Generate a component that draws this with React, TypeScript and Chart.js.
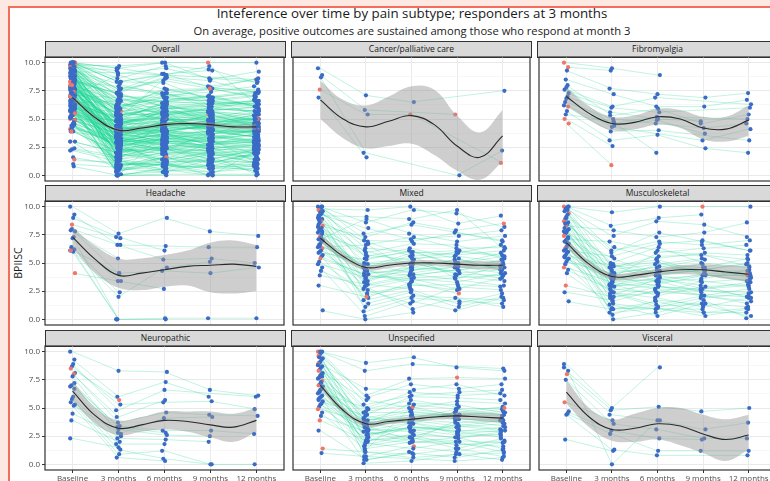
import React, { useEffect, useRef } from 'react';
import { Chart, registerables } from 'chart.js';
Chart.register(...registerables);

// ---------- axis / label data ----------
const timeLabels = ['Baseline', '3 months', '6 months', '9 months', '12 months'];
const timeValues = [1, 2, 3, 4, 5];
const yMajorTicks = [0, 2.5, 5, 7.5, 10];
const yMinorTicks = [1.25, 3.75, 6.25, 8.75];
const fitX = [1, 1.5, 2, 2.5, 3, 3.5, 4, 4.5, 5];

type Subj = (number | null)[];

// ---------- subject trajectories (Baseline, 3m, 6m, 9m, 12m) ----------
const cancer: Subj[] = [
  [9.5, 7.1, 6.5, null, 7.5],
  [8.9, 5.8, null, 5.4, null],
  [8.7, 2.0, null, 0.0, 2.2],
  [7.6, 5.4, 5.4, null, 1.1],
  [6.9, 1.6, null, null, null],
];
const cancerRed = [[3, 0], [3, 2], [1, 3], [3, 4]];
const cancerFit = [6.7, 5.0, 4.3, 4.8, 5.3, 4.5, 2.6, 1.6, 3.5];
const cancerLo = [5.0, 3.3, 2.4, 2.6, 2.8, 1.8, 0.4, -0.4, 1.2];
const cancerHi = [8.4, 6.7, 6.2, 7.0, 7.9, 7.6, 5.3, 3.8, 5.8];

const fibro: Subj[] = [
  [10.0, 9.5, 8.9, null, null],
  [9.6, 9.3, null, null, null],
  [9.3, 7.7, 7.2, 6.9, 7.3],
  [8.5, 7.2, 6.1, 6.1, 6.7],
  [7.6, 6.1, 6.9, null, 6.3],
  [7.3, 6.0, 5.6, null, 6.0],
  [7.0, 5.6, 5.0, 4.8, null],
  [6.8, 4.6, 5.2, null, 5.0],
  [6.5, 5.0, 4.6, 4.2, 4.6],
  [6.2, 4.3, null, 3.1, 4.1],
  [6.1, 3.9, 4.0, null, 3.1],
  [5.7, 3.1, 3.6, 2.4, 2.0],
  [5.4, 4.8, 2.0, null, null],
  [5.0, 2.6, null, null, null],
  [4.6, 0.9, null, null, null],
  [8.0, 5.3, 5.9, 4.6, 5.4],
  [7.8, 4.4, 4.9, 3.7, null],
];
const fibroRed = [[0, 0], [1, 0], [10, 0], [13, 0], [14, 0], [14, 1]];
const fibroFit = [7.0, 5.5, 4.6, 4.7, 5.2, 5.0, 4.2, 4.1, 4.9];
const fibroLo = [6.2, 4.9, 4.0, 4.1, 4.5, 4.2, 3.2, 3.0, 3.5];
const fibroHi = [7.8, 6.1, 5.2, 5.3, 5.9, 5.8, 5.2, 5.2, 6.2];

const headache: Subj[] = [
  [10.0, 7.6, 9.0, 7.8, 7.4],
  [9.3, 6.6, 6.5, 6.4, 6.4],
  [9.0, 7.3, 6.1, null, null],
  [8.0, 6.6, 5.3, 5.4, 5.0],
  [7.9, 4.1, 4.3, 4.1, 4.6],
  [7.8, 5.4, null, null, null],
  [7.3, 0.0, 0.1, 0.1, 0.1],
  [7.2, 3.4, 2.7, null, null],
  [6.4, 2.4, null, null, null],
  [6.1, 2.0, 4.6, 5.1, null],
  [6.2, 0.0, 0.0, null, null],
  [6.0, 0.0, null, null, null],
  [8.4, 7.2, null, null, null],
  [6.1, 4.1, null, null, null],
  [4.1, 3.4, null, null, null],
];
const headacheRed = [[12, 0], [13, 0], [14, 0]];
const headacheFit = [7.3, 5.3, 3.9, 4.1, 4.4, 4.7, 4.8, 4.9, 4.7];
const headacheLo = [6.3, 4.1, 2.8, 2.6, 2.9, 3.0, 2.4, 2.3, 2.5];
const headacheHi = [8.2, 6.5, 5.4, 5.4, 5.7, 6.1, 6.8, 7.0, 6.6];

const mixed: Subj[] = [
  [10.0, 8.6, 9.7, 9.4, 8.2],
  [10.0, 5.4, 6.0, 4.9, 5.6],
  [9.9, 7.6, 8.4, null, 7.0],
  [9.8, 9.7, 10.0, 8.5, 9.2],
  [9.7, 4.4, 3.1, 2.6, null],
  [9.6, 6.3, null, 5.7, 6.1],
  [9.4, 3.3, 4.6, 5.3, 4.9],
  [9.3, 8.1, 7.1, 7.4, 7.9],
  [9.1, 2.1, 2.9, null, null],
  [9.0, 5.9, 6.7, 6.6, 5.4],
  [8.9, 4.9, 5.1, 4.0, 3.9],
  [8.7, 0.7, 1.9, 1.6, 1.4],
  [8.6, 6.9, 5.6, 5.9, 6.6],
  [8.4, 3.9, null, 3.3, 4.1],
  [8.3, 7.3, 8.6, 7.9, 8.5],
  [8.1, 4.1, 4.4, 4.6, 5.0],
  [8.0, 1.4, 2.4, 1.1, 2.0],
  [7.9, 5.6, 6.3, null, 4.4],
  [7.7, 3.0, 3.7, 3.9, 3.4],
  [7.6, 6.1, 4.9, 5.1, null],
  [7.4, 4.6, 5.9, 6.1, 5.7],
  [7.3, 2.6, 1.4, 2.9, 2.6],
  [7.1, 8.9, 7.6, 6.9, 7.4],
  [7.0, 3.6, 4.0, null, 3.0],
  [6.9, 5.0, 5.4, 5.6, 5.1],
  [6.7, 1.9, 3.3, 2.3, null],
  [6.6, 4.3, 3.9, 4.4, 4.7],
  [6.4, 6.6, 7.3, 6.3, 6.4],
  [6.3, 2.9, 0.9, 1.9, 1.1],
  [6.1, 4.7, 5.0, 4.1, 4.4],
  [6.0, 3.4, 4.9, 5.0, 5.9],
  [5.9, 5.3, 6.1, 4.7, null],
  [5.7, 1.1, 2.1, null, 1.7],
  [5.6, 3.9, 3.4, 3.7, 3.9],
  [5.4, 4.0, 4.6, 4.3, 5.3],
  [5.1, 2.3, 3.0, 3.1, 2.9],
  [4.9, 3.7, null, 4.9, 4.6],
  [4.6, 0.3, 1.6, 0.8, 1.9],
  [4.3, 2.7, 3.6, 2.7, 3.7],
  [3.9, 3.1, 2.7, null, null],
  [3.0, 2.0, null, null, null],
  [0.8, 0.0, 0.6, null, null],
  [10.0, 7.0, 6.9, 7.7, 6.9],
  [9.5, 6.7, 4.3, 5.4, 4.3],
  [8.8, 3.1, 3.9, 4.4, 3.6],
  [8.2, 5.7, 5.3, 6.0, 5.6],
  [7.8, 4.4, 5.7, 3.6, 4.9],
  [7.2, 1.7, 2.6, 1.4, 2.3],
  [6.5, 4.9, 4.1, 4.7, 4.1],
  [9.2, 9.1, 8.9, 9.7, 6.3],
];
const mixedRed = [[4, 0], [11, 0], [14, 0], [21, 0], [28, 0], [34, 0], [13, 1], [40, 1], [25, 3], [14, 4]];
const mixedFit = [7.2, 5.6, 4.6, 4.8, 5.0, 5.0, 4.9, 4.8, 4.8];
const mixedLo = [6.85, 5.3, 4.35, 4.55, 4.75, 4.75, 4.6, 4.45, 4.4];
const mixedHi = [7.55, 5.9, 4.85, 5.05, 5.25, 5.25, 5.2, 5.15, 5.2];

const musculo: Subj[] = [
  [10.0, 9.5, 10.0, 10.0, 10.0],
  [10.0, 8.3, 9.0, 9.3, null],
  [9.9, 4.6, 5.1, 4.0, 3.4],
  [9.8, 7.4, 8.7, 8.4, 7.3],
  [9.6, 3.3, 2.7, null, 2.4],
  [9.4, 5.9, 7.7, 6.9, 6.1],
  [9.3, 2.1, 3.6, 3.0, 1.9],
  [9.1, 6.4, 5.4, 5.9, 5.7],
  [8.9, 1.4, 0.9, 0.6, 1.0],
  [8.7, 4.3, 4.3, 4.9, null],
  [8.6, 5.0, 6.4, 5.0, 4.6],
  [8.4, 3.0, 3.1, 3.9, 3.9],
  [8.3, 7.9, 7.3, 7.7, 8.6],
  [8.1, 0.4, 1.7, 1.3, 0.3],
  [8.0, 4.0, 4.7, null, 4.1],
  [7.9, 2.7, 2.3, 3.4, 2.9],
  [7.7, 5.4, 4.0, 4.4, 5.0],
  [7.6, 3.7, 5.9, 6.3, 6.6],
  [7.4, 1.0, null, 0.9, null],
  [7.3, 4.9, 3.3, 3.6, 4.4],
  [7.1, 6.9, 6.1, null, 5.3],
  [7.0, 2.4, 1.3, 2.1, 1.4],
  [6.9, 3.4, 4.9, 4.6, 3.7],
  [6.7, 4.4, null, 5.4, null],
  [6.6, 1.9, 2.9, 2.6, 2.1],
  [6.4, 3.9, 4.1, 4.3, 4.3],
  [6.3, 0.0, 0.6, 1.7, 0.1],
  [6.1, 5.6, 6.7, 7.0, 6.1],
  [6.0, 2.9, 3.4, 2.4, null],
  [5.9, 3.1, 2.1, 2.9, 3.1],
  [5.7, 4.7, 5.3, 4.1, 4.0],
  [5.6, 1.6, 2.6, null, 1.6],
  [5.4, 3.6, 3.9, 3.3, 3.6],
  [5.3, 2.3, 1.1, 1.9, 2.3],
  [5.1, 4.1, 4.6, 5.3, null],
  [4.9, 0.9, 1.6, 0.6, 0.6],
  [4.6, 3.3, null, 3.9, 3.9],
  [4.4, 2.6, 3.0, 2.1, 2.7],
  [4.1, 1.3, 0.3, 1.4, 1.1],
  [3.0, 2.0, 2.4, null, 2.0],
  [2.4, 1.7, null, null, null],
  [10.0, 6.1, 6.9, 6.6, 7.0],
  [9.7, 3.9, 2.9, 2.7, 3.0],
  [9.0, 2.9, 4.4, 4.6, 5.4],
  [8.5, 4.9, 3.9, 4.4, 4.9],
  [7.8, 3.0, 3.7, 2.7, 3.3],
  [7.2, 4.6, 5.6, 5.7, 4.7],
  [6.8, 0.6, 1.0, 0.3, 0.9],
  [6.2, 3.6, 3.4, 4.0, 3.4],
  [5.5, 2.4, 1.9, 1.1, 1.9],
  [1.6, 0.9, null, 1.4, null],
];
const musculoRed = [[0, 0], [5, 0], [9, 0], [12, 0], [18, 0], [26, 0], [36, 0], [39, 0], [0, 3], [30, 4]];
const musculoFit = [6.8, 4.9, 3.8, 3.9, 4.2, 4.4, 4.4, 4.2, 4.0];
const musculoLo = [6.4, 4.6, 3.5, 3.6, 3.9, 4.0, 3.9, 3.6, 3.3];
const musculoHi = [7.2, 5.2, 4.1, 4.2, 4.5, 4.8, 4.9, 4.8, 4.7];

const neuro: Subj[] = [
  [10.0, 8.3, 8.2, 6.6, 6.1],
  [9.3, 6.0, 7.3, 6.0, null],
  [8.9, 4.8, 6.6, null, 6.0],
  [8.7, 5.3, 5.5, 5.6, 4.9],
  [8.5, 5.7, null, null, null],
  [8.1, 3.7, 4.6, 4.4, 4.3],
  [8.0, 4.2, 5.7, null, null],
  [7.8, 2.7, 4.1, 4.2, null],
  [7.0, 3.4, 3.0, 3.0, 2.7],
  [6.9, 3.1, 2.6, 2.5, null],
  [6.7, 2.3, 2.2, 2.0, null],
  [6.0, 1.8, 1.8, null, null],
  [5.8, 1.3, 0.5, 0.0, 0.0],
  [5.5, 0.9, 1.2, 0.0, null],
  [5.3, 2.8, null, null, null],
  [5.2, 0.6, 0.3, null, null],
  [4.5, 2.5, null, null, null],
  [3.9, 2.0, null, null, null],
  [2.3, 1.5, null, null, null],
  [7.2, 3.3, 2.8, null, null],
];
const neuroRed = [[4, 0], [4, 1], [6, 0]];
const neuroFit = [6.5, 4.3, 3.2, 3.5, 3.9, 3.8, 3.5, 3.3, 3.9];
const neuroLo = [5.6, 3.6, 2.6, 2.9, 3.1, 2.9, 2.4, 2.0, 2.9];
const neuroHi = [7.4, 5.0, 3.9, 4.2, 4.7, 4.7, 4.7, 4.5, 5.0];

const unspec: Subj[] = [
  [10.0, 9.0, 9.5, 8.6, 8.3],
  [10.0, 8.3, 8.9, null, 8.5],
  [9.9, 5.3, 6.1, 6.4, 6.6],
  [9.7, 2.0, 3.4, 2.9, 2.4],
  [9.6, 6.1, 7.6, 7.7, 7.6],
  [9.4, 3.7, 4.1, 4.9, 4.4],
  [9.3, 0.4, 1.0, 0.6, 1.3],
  [9.1, 4.9, 5.7, 5.1, null],
  [9.0, 2.9, 2.4, 3.6, 3.1],
  [8.9, 6.7, 6.6, 7.1, 6.1],
  [8.7, 1.4, 2.0, null, 1.6],
  [8.6, 4.1, 4.9, 4.4, 4.9],
  [8.4, 3.1, 2.9, 2.3, 2.9],
  [8.3, 5.7, 5.0, 5.6, 5.4],
  [8.1, 1.1, 0.9, 1.4, 0.7],
  [8.0, 3.9, 4.4, 4.1, 3.7],
  [7.9, 2.4, 3.7, 3.1, null],
  [7.7, 4.4, 6.0, 5.9, 5.7],
  [7.6, 0.7, 1.6, 1.1, 2.0],
  [7.4, 3.4, 2.1, 3.9, 3.4],
  [7.3, 4.6, 4.6, null, 4.1],
  [7.1, 2.7, 3.1, 2.6, 2.6],
  [7.0, 3.6, 5.4, 5.3, 4.6],
  [6.9, 1.9, 1.4, 2.0, 1.1],
  [6.7, 4.0, 3.9, 4.6, 5.1],
  [6.6, 3.0, null, 3.4, 3.0],
  [6.4, 5.0, 6.4, 6.1, 6.3],
  [6.3, 2.1, 2.6, 1.7, 2.1],
  [6.1, 3.3, 4.0, 3.7, 3.9],
  [6.0, 0.1, 0.3, 0.9, 0.4],
  [5.9, 3.9, 4.7, 4.3, null],
  [5.7, 2.6, 3.3, 2.9, 3.3],
  [5.6, 4.3, 3.6, 4.7, 4.4],
  [5.4, 1.6, 2.3, null, 1.9],
  [5.3, 3.1, 4.3, 4.0, 4.0],
  [5.1, 2.3, 1.9, 2.4, 2.7],
  [4.9, 3.7, 3.0, 3.3, 3.6],
  [4.6, 1.3, 5.1, 4.3, 4.7],
  [4.3, 2.9, 2.0, 2.0, null],
  [3.9, 2.1, 2.4, 1.4, 2.3],
  [3.0, 0.4, 1.1, null, null],
  [1.4, 1.1, 0.6, 0.9, 1.0],
  [1.0, 0.7, null, 0.3, 0.6],
  [10.0, 5.9, 7.1, 6.7, 7.1],
  [9.5, 3.4, 3.9, 3.4, 3.9],
  [8.8, 4.7, 5.3, 4.9, 5.0],
  [7.8, 1.7, 2.7, 2.4, 1.4],
  [7.2, 3.6, 4.4, 4.4, 4.3],
  [6.5, 2.6, 3.3, 3.0, 2.9],
  [5.8, 3.0, 3.7, 2.7, 3.0],
];
const unspecRed = [[0, 0], [4, 0], [9, 0], [13, 0], [19, 0], [22, 0], [36, 0], [39, 0], [41, 0], [37, 2], [18, 2], [4, 3], [45, 4]];
const unspecFit = [7.0, 4.8, 3.6, 3.8, 4.0, 4.2, 4.3, 4.2, 4.1];
const unspecLo = [6.7, 4.55, 3.35, 3.55, 3.75, 3.95, 4.0, 3.85, 3.7];
const unspecHi = [7.3, 5.05, 3.85, 4.05, 4.25, 4.45, 4.6, 4.55, 4.5];

const visceral: Subj[] = [
  [8.9, 5.0, 8.6, null, null],
  [8.3, 4.8, 5.1, 4.7, 5.0],
  [8.0, 4.4, 3.9, 3.1, 3.7],
  [7.5, 3.6, 3.1, 2.3, 2.3],
  [5.5, 3.9, null, null, null],
  [4.7, 3.0, 2.3, 2.2, null],
  [4.5, 2.7, 1.2, 1.2, 1.2],
  [4.4, 1.3, 0.8, null, 0.8],
  [2.2, 1.2, null, null, null],
  [8.6, 0.0, 3.9, null, null],
];
const visceralRed = [[2, 0], [4, 0]];
const visceralFit = [6.4, 4.2, 3.1, 3.2, 3.6, 3.4, 2.7, 2.2, 2.6];
const visceralLo = [5.4, 3.3, 2.1, 2.0, 2.2, 1.7, 1.0, 0.3, 1.3];
const visceralHi = [7.5, 5.0, 4.0, 4.5, 5.0, 5.0, 4.4, 4.0, 4.4];

const overallFit = [6.9, 5.1, 4.0, 4.2, 4.5, 4.6, 4.5, 4.3, 4.3];
const overallLo = [6.7, 4.95, 3.85, 4.05, 4.35, 4.45, 4.3, 4.1, 4.05];
const overallHi = [7.1, 5.25, 4.15, 4.35, 4.65, 4.75, 4.7, 4.5, 4.55];

// Overall = all subtypes pooled
const groups: [Subj[], number[][]][] = [
  [cancer, cancerRed], [fibro, fibroRed], [headache, headacheRed], [mixed, mixedRed],
  [musculo, musculoRed], [neuro, neuroRed], [unspec, unspecRed], [visceral, visceralRed],
];
const overall: Subj[] = [];
const overallRed: number[][] = [];
groups.forEach(([subs, reds]) => {
  const off = overall.length;
  reds.forEach(([s, t]) => overallRed.push([s + off, t]));
  subs.forEach((s) => overall.push(s));
});

interface PanelDef { name: string; subjects: Subj[]; reds: number[][]; fit: number[]; lo: number[]; hi: number[]; }
const panels: PanelDef[] = [
  { name: 'Overall', subjects: overall, reds: overallRed, fit: overallFit, lo: overallLo, hi: overallHi },
  { name: 'Cancer/palliative care', subjects: cancer, reds: cancerRed, fit: cancerFit, lo: cancerLo, hi: cancerHi },
  { name: 'Fibromyalgia', subjects: fibro, reds: fibroRed, fit: fibroFit, lo: fibroLo, hi: fibroHi },
  { name: 'Headache', subjects: headache, reds: headacheRed, fit: headacheFit, lo: headacheLo, hi: headacheHi },
  { name: 'Mixed', subjects: mixed, reds: mixedRed, fit: mixedFit, lo: mixedLo, hi: mixedHi },
  { name: 'Musculoskeletal', subjects: musculo, reds: musculoRed, fit: musculoFit, lo: musculoLo, hi: musculoHi },
  { name: 'Neuropathic', subjects: neuro, reds: neuroRed, fit: neuroFit, lo: neuroLo, hi: neuroHi },
  { name: 'Unspecified', subjects: unspec, reds: unspecRed, fit: unspecFit, lo: unspecLo, hi: unspecHi },
  { name: 'Visceral', subjects: visceral, reds: visceralRed, fit: visceralFit, lo: visceralLo, hi: visceralHi },
];

// ---------- styling ----------
const FONT = "'Open Sans', 'DejaVu Sans', sans-serif";
const LINE_COL = 'rgba(25, 212, 148, 0.36)';
const LINE_COL_DENSE = 'rgba(25, 212, 148, 0.42)';
const BLUE = '#3a6cc6';
const RED = '#f0766a';
const PX = [45, 291, 537];
const PY = [57, 201, 346];
const PW = 241;
const PH = 124;

const jitter = (i: number, t: number) => ((((i * 7 + t * 13) % 9) - 4) * 0.013);
const isMajor = (v: number) => yMajorTicks.indexOf(v) >= 0;

const borderPlugin = {
  id: 'panelBorder',
  afterDraw(chart: any) {
    const { ctx, chartArea: a } = chart;
    ctx.save();
    ctx.strokeStyle = '#333333';
    ctx.lineWidth = 1.2;
    ctx.strokeRect(a.left, a.top, a.right - a.left, a.bottom - a.top);
    ctx.restore();
  },
};

function Panel({ p, row, col }: { p: PanelDef; row: number; col: number }) {
  const ref = useRef<HTMLCanvasElement>(null);
  const L = col === 0 ? 36 : 2;
  const R = 2;
  const T = 8;
  const B = row === 2 ? 16 : 8;
  const W = L + PW + R;
  const H = T + PH + B;
  useEffect(() => {
    if (!ref.current) return;
    const redSet = new Set(p.reds.map(([s, t]) => s + ':' + t));
    const lineCol = p.subjects.length > 100 ? LINE_COL_DENSE : LINE_COL;
    const lineSets: any[] = p.subjects.map((vals) => ({
      type: 'line',
      data: vals.map((v, t) => (v === null ? null : { x: timeValues[t], y: v })).filter((d) => d !== null),
      borderColor: lineCol,
      borderWidth: 0.75,
      pointRadius: 0,
      tension: 0,
      fill: false,
      order: 5,
    }));
    const pts: any[] = [];
    const cols: string[] = [];
    p.subjects.forEach((vals, i) =>
      vals.forEach((v, t) => {
        if (v === null) return;
        pts.push({ x: timeValues[t] + jitter(i, t), y: v });
        cols.push(redSet.has(i + ':' + t) ? RED : BLUE);
      })
    );
    const datasets: any[] = [
      ...lineSets,
      { type: 'scatter', data: pts, backgroundColor: cols, borderWidth: 0, pointRadius: 2.1, order: 4 },
      {
        type: 'line', data: fitX.map((x, k) => ({ x, y: p.hi[k] })), borderWidth: 0, pointRadius: 0,
        tension: 0.4, fill: '+1', backgroundColor: 'rgba(150,150,150,0.47)', order: 3,
      },
      {
        type: 'line', data: fitX.map((x, k) => ({ x, y: p.lo[k] })), borderWidth: 0, pointRadius: 0,
        tension: 0.4, fill: false, order: 3,
      },
      {
        type: 'line', data: fitX.map((x, k) => ({ x, y: p.fit[k] })), borderColor: '#2a2a2a', borderWidth: 1.1,
        pointRadius: 0, tension: 0.4, fill: false, order: 1,
      },
    ];
    const chart = new Chart(ref.current, {
      type: 'scatter',
      data: { datasets },
      options: {
        animation: false,
        responsive: false,
        events: [],
        layout: { padding: { left: col === 0 ? 0 : L, right: R, top: T, bottom: row === 2 ? 0 : B } },
        plugins: { legend: { display: false }, tooltip: { enabled: false } },
        scales: {
          x: {
            type: 'linear', min: 0.4, max: 5.6,
            afterBuildTicks: (s: any) => { s.ticks = timeValues.map((v) => ({ value: v })); },
            afterFit: (s: any) => { s.height = row === 2 ? B : 0; },
            grid: { color: '#ebebeb', lineWidth: 1, drawTicks: row === 2, tickLength: 3, tickColor: '#333333' },
            border: { display: false },
            ticks: {
              display: row === 2, autoSkip: false, maxRotation: 0, padding: 1, color: '#4d4d4d',
              font: { family: FONT, size: 8 },
              callback: (v: any) => timeLabels[timeValues.indexOf(v)],
            },
          },
          y: {
            type: 'linear', min: -0.5, max: 10.5,
            afterBuildTicks: (s: any) => {
              s.ticks = [...yMinorTicks, ...yMajorTicks].sort((a, b) => a - b).map((v) => ({ value: v }));
            },
            afterFit: (s: any) => { s.width = col === 0 ? L : 0; },
            grid: {
              color: (c: any) => (c.tick && isMajor(c.tick.value) ? '#e9e9e9' : '#f4f4f4'),
              lineWidth: (c: any) => (c.tick && isMajor(c.tick.value) ? 1 : 0.7),
              drawTicks: col === 0, tickLength: 3,
              tickColor: (c: any) => (c.tick && isMajor(c.tick.value) ? '#333333' : 'rgba(0,0,0,0)'),
            },
            border: { display: false },
            ticks: {
              display: col === 0, padding: 2, color: '#4d4d4d', font: { family: FONT, size: 8 },
              callback: (v: any) => (isMajor(v) ? Number(v).toFixed(1) : ''),
            },
          },
        },
      } as any,
      plugins: [borderPlugin],
    });
    return () => chart.destroy();
  }, []);
  return (
    <>
      <div
        style={{
          position: 'absolute', left: PX[col], top: PY[row] - 16, width: PW, height: 17, boxSizing: 'border-box',
          background: '#d9d9d9', border: '1.2px solid #333333', textAlign: 'center', fontFamily: FONT,
          fontSize: 8.5, lineHeight: '14px', color: '#1a1a1a', whiteSpace: 'nowrap',
        }}
      >
        {p.name}
      </div>
      <canvas
        ref={ref}
        width={W}
        height={H}
        style={{ position: 'absolute', left: PX[col] - L, top: PY[row] - T, width: W, height: H }}
      />
    </>
  );
}

export default function App() {
  return (
    <div style={{ position: 'fixed', left: 0, top: 0, width: 770, height: 481, overflow: 'hidden', background: '#fde9e2' }}>
      <div
        style={{
          position: 'absolute', left: 8, top: 6, width: 800, height: 500, background: '#ffffff',
          borderTop: '2px solid #f26d5b', borderLeft: '2px solid #f26d5b',
        }}
      />
      <div
        style={{
          position: 'absolute', left: 412, top: 4, transform: 'translateX(-50%)', whiteSpace: 'nowrap',
          fontFamily: FONT, fontSize: 13.3, color: '#1a1a1a',
        }}
      >
        Inteference over time by pain subtype; responders at 3 months
      </div>
      <div
        style={{
          position: 'absolute', left: 412, top: 23, transform: 'translateX(-50%)', whiteSpace: 'nowrap',
          fontFamily: FONT, fontSize: 11.2, color: '#1a1a1a',
        }}
      >
        On average, positive outcomes are sustained among those who respond at month 3
      </div>
      <div
        style={{
          position: 'absolute', left: 18, top: 263, transform: 'translate(-50%, -50%) rotate(-90deg)',
          fontFamily: FONT, fontSize: 10.5, color: '#1a1a1a', whiteSpace: 'nowrap',
        }}
      >
        BPIISC
      </div>
      {panels.map((p, k) => (
        <Panel key={p.name} p={p} row={Math.floor(k / 3)} col={k % 3} />
      ))}
    </div>
  );
}
